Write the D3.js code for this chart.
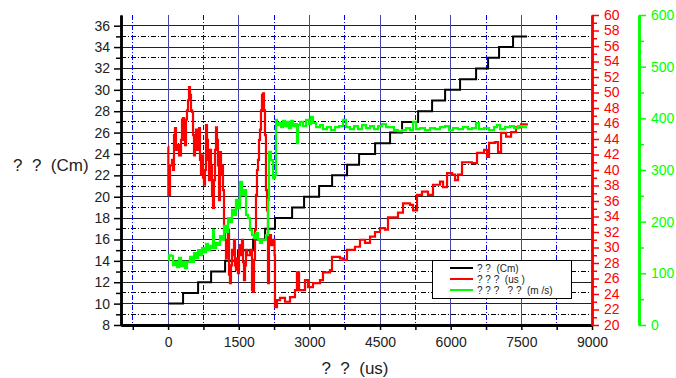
<!DOCTYPE html>
<html>
<head>
<meta charset="utf-8">
<script src="https://cdn.jsdelivr.net/npm/d3@7"></script>
<style>
  body { margin: 0; background: #fff; }
  svg { font-family: "Liberation Sans", Arial, sans-serif; }
  .pre { white-space: pre; }
</style>
</head>
<body>
<svg width="676" height="378"></svg>
<script>
// position steps (Cm) vs time (us)
var stepTimes = [0, 318, 637, 913, 1210, 1486, 1805, 2059, 2270, 2633, 2887, 3206, 3482, 3800,
  4055, 4395, 4713, 4968, 5308, 5605, 5881, 6199, 6539, 6794, 7027, 7324, 7622];
var stepPos = [10, 11, 12, 13, 14, 15, 16, 17, 18, 19, 20, 21, 22, 23, 24, 25, 26, 27, 28, 29,
  30, 31, 32, 33, 34, 35, 35];

// red series (us)
var redTimes = [0, 5, 40, 83, 104, 125, 146, 168, 210, 231, 274, 295, 316, 338, 359, 380, 401, 423,
  444, 465, 486, 508, 529, 550, 571, 592, 614, 635, 656, 677, 698, 720, 741, 762, 783, 805, 826,
  847, 868, 890, 911, 932, 953, 974, 996, 1017, 1038, 1059, 1081, 1102, 1123, 1144, 1165, 1187,
  1208, 1229, 1250, 1272, 1293, 1314, 1335, 1357, 1378, 1399, 1420, 1441, 1463, 1484, 1505, 1526,
  1548, 1569, 1590, 1611, 1633, 1654, 1675, 1696, 1739, 1781, 1802, 1824, 1845, 1866, 1887, 1908,
  1930, 1951, 1972, 1993, 2015, 2036, 2057, 2078, 2100, 2121, 2142, 2184, 2227, 2260, 2269, 2312,
  2376, 2482, 2588, 2694, 2736, 2780, 2906, 2970, 3076, 3225, 3288, 3437, 3480, 3650, 3713, 3798,
  3968, 4074, 4181, 4287, 4393, 4499, 4605, 4669, 4881, 4987, 5136, 5200, 5285, 5391, 5518, 5624,
  5773, 5837, 5922, 6028, 6092, 6155, 6240, 6452, 6559, 6707, 6771, 6814, 6941, 7005, 7069, 7175,
  7282, 7388, 7494, 7640];
var redVals = [43.0, 36.8, 40.6, 41.3, 40.0, 44.5, 45.4, 42.6, 43.2, 41.9, 43.9, 46.5, 46.7, 43.9,
  43.2, 46.5, 47.7, 49.0, 50.7, 49.7, 47.7, 47.5, 44.5, 41.9, 43.9, 45.2, 42.6, 43.2, 45.4, 41.3,
  39.4, 41.9, 39.0, 38.1, 40.0, 45.8, 43.9, 41.3, 38.7, 42.6, 40.6, 36.8, 35.1, 38.7, 42.6, 45.5,
  43.9, 40.6, 36.1, 42.3, 39.4, 40.6, 37.4, 32.3, 31.0, 28.6, 31.0, 32.3, 26.5, 25.4, 27.7, 29.7,
  29.0, 31.0, 27.7, 27.1, 28.6, 26.7, 29.7, 30.3, 29.0, 31.0, 28.1, 25.8, 27.7, 29.7, 29.0, 29.0,
  29.7, 24.5, 24.3, 28.4, 32.3, 36.8, 40.0, 41.3, 43.9, 45.2, 47.7, 49.7, 49.9, 47.7, 44.5, 37.4,
  34.8, 25.4, 31.6, 30.3, 31.0, 29.0, 22.3, 23.2, 23.5, 23.0, 23.6, 24.5, 26.8, 24.5, 25.8, 24.9,
  25.4, 25.8, 26.8, 27.1, 28.8, 28.6, 28.4, 29.7, 30.1, 31.0, 30.6, 31.4, 32.0, 32.5, 32.3, 33.9,
  34.5, 35.7, 35.5, 34.8, 36.8, 37.2, 36.8, 38.1, 38.5, 37.8, 39.6, 39.4, 38.7, 39.4, 41.0, 40.9,
  42.2, 42.6, 41.7, 43.5, 43.6, 42.3, 44.8, 44.3, 44.9, 45.5, 45.9, 45.9];

// green series (m/s)
var velTimes = [0, 19, 62, 104, 146, 189, 231, 274, 316, 359, 401, 465, 508, 550, 592, 635, 677,
  720, 762, 805, 847, 890, 932, 953, 974, 1017, 1059, 1102, 1144, 1187, 1229, 1272, 1314, 1357,
  1399, 1441, 1484, 1526, 1569, 1611, 1654, 1696, 1739, 1781, 1824, 1866, 1908, 1951, 1993, 2078,
  2121, 2142, 2184, 2227, 2269, 2291, 2312, 2354, 2397, 2439, 2482, 2524, 2567, 2609, 2652, 2694,
  2736, 2758, 2800, 2864, 2928, 2991, 3034, 3076, 3140, 3225, 3288, 3373, 3458, 3543, 3628, 3713,
  3777, 3862, 3947, 4032, 4117, 4202, 4287, 4372, 4457, 4542, 4627, 4711, 4796, 4881, 4966, 5051,
  5136, 5200, 5263, 5348, 5454, 5560, 5666, 5773, 5879, 5964, 6049, 6155, 6261, 6367, 6452, 6537,
  6600, 6707, 6814, 6920, 6984, 7048, 7154, 7260, 7345, 7430, 7515, 7622];
var velVals = [126, 135, 134, 116, 122, 112, 130, 114, 122, 110, 122, 132, 122, 139, 130, 145, 135,
  149, 141, 157, 145, 153, 149, 184, 149, 159, 155, 172, 165, 192, 180, 207, 199, 223, 213, 242,
  226, 277, 252, 261, 213, 207, 184, 174, 168, 178, 165, 159, 165, 174, 242, 335, 319, 284, 290,
  397, 387, 391, 383, 395, 385, 393, 381, 395, 385, 389, 352, 387, 393, 385, 397, 389, 403, 391,
  383, 387, 379, 383, 377, 383, 385, 397, 383, 379, 385, 379, 387, 381, 385, 379, 385, 389, 383,
  383, 377, 375, 377, 381, 377, 393, 379, 381, 377, 381, 379, 383, 385, 377, 381, 379, 383, 379,
  381, 391, 379, 381, 377, 383, 387, 379, 383, 385, 381, 385, 383, 383];

var xMajor = [0, 1500, 3000, 4500, 6000, 7500, 9000];
var xMinor = [-750, 750, 2250, 3750, 5250, 6750, 8250];
var yMajor = d3.range(8, 37, 2);
var yMinor = d3.range(9, 37, 2);
var redMajor = d3.range(20, 61, 2);
var redMinor = d3.range(21, 60, 2);
var velMajor = [0, 100, 200, 300, 400, 500, 600];
var velMinor = [50, 150, 250, 350, 450, 550];

var legendNames = ["? ?  (Cm)", "? ? ?  (us )", "? ? ?   ? ?  (m /s)"];
var legendColors = ["#000000", "#ff0000", "#00ff00"];

var svg = d3.select("svg");
var pLeft = 121, pRight = 592, pTop = 15, pBottom = 325;

var x = d3.scaleLinear().domain([-1000, 9000]).range([pLeft, pRight]);
var yL = d3.scaleLinear().domain([8, 37]).range([pBottom, pTop]);
var yR = d3.scaleLinear().domain([20, 60]).range([pBottom, pTop]);
var yG = d3.scaleLinear().domain([0, 600]).range([pBottom, pTop]);

var grid = svg.append("g").attr("shape-rendering", "crispEdges");

// horizontal grid: solid on even, dash-dot on odd
grid.selectAll(".hs").data(yMajor.filter(function(d) { return d > 8; }))
  .enter().append("line")
    .attr("x1", pLeft).attr("x2", pRight)
    .attr("y1", function(d) { return yL(d); }).attr("y2", function(d) { return yL(d); })
    .attr("stroke", "#222");
grid.selectAll(".hd").data(yMinor)
  .enter().append("line")
    .attr("x1", pLeft).attr("x2", pRight)
    .attr("y1", function(d) { return yL(d); }).attr("y2", function(d) { return yL(d); })
    .attr("stroke", "#000").attr("stroke-dasharray", "5,2,1,2");

// vertical grid
grid.selectAll(".vs").data(xMajor.filter(function(d) { return d < 9000; }))
  .enter().append("line")
    .attr("x1", function(d) { return x(d); }).attr("x2", function(d) { return x(d); })
    .attr("y1", pTop).attr("y2", pBottom)
    .attr("stroke", "#4646aa");
grid.selectAll(".vd").data(xMinor)
  .enter().append("line")
    .attr("x1", function(d) { return x(d); }).attr("x2", function(d) { return x(d); })
    .attr("y1", pTop).attr("y2", pBottom)
    .attr("stroke", "#0000ff").attr("stroke-dasharray", "5,2,1,2");

// series
var stepLine = d3.line()
  .x(function(d, i) { return x(stepTimes[i]); })
  .y(function(d) { return yL(d); })
  .curve(d3.curveStepAfter);
svg.append("path").datum(stepPos)
  .attr("d", stepLine).attr("fill", "none").attr("stroke", "#000").attr("stroke-width", 2);

var redLine = d3.line()
  .x(function(d, i) { return x(redTimes[i]); })
  .y(function(d) { return yR(d); })
  .curve(d3.curveStepAfter);
svg.append("path").datum(redVals)
  .attr("d", redLine).attr("fill", "none").attr("stroke", "#ff0000").attr("stroke-width", 2.2);

var velLine = d3.line()
  .x(function(d, i) { return x(velTimes[i]); })
  .y(function(d) { return yG(d); })
  .curve(d3.curveStepAfter);
svg.append("path").datum(velVals)
  .attr("d", velLine).attr("fill", "none").attr("stroke", "#00ff00").attr("stroke-width", 2.2);

// axes
function styleAxis(g, color, width) {
  g.select(".domain").attr("stroke", color).attr("stroke-width", width);
  g.selectAll(".tick line").attr("stroke", color).attr("stroke-width", 1.5);
  g.selectAll("text").attr("fill", color).style("font-size", "14px");
}

var ax;
ax = svg.append("g").attr("transform", "translate(" + pLeft + ",0)")
  .call(d3.axisLeft(yL).tickValues(yMinor).tickSize(5).tickFormat("").tickSizeOuter(0));
styleAxis(ax, "#000", 2.5);
ax = svg.append("g").attr("transform", "translate(" + pLeft + ",0)")
  .call(d3.axisLeft(yL).tickValues(yMajor).tickSize(7).tickPadding(4).tickSizeOuter(0));
styleAxis(ax, "#000", 2.5);
ax.selectAll("text").attr("fill", "#222");

ax = svg.append("g").attr("transform", "translate(0," + pBottom + ")")
  .call(d3.axisBottom(x).tickValues(xMinor).tickSize(5).tickFormat("").tickSizeOuter(0));
styleAxis(ax, "#000", 3);
ax = svg.append("g").attr("transform", "translate(0," + pBottom + ")")
  .call(d3.axisBottom(x).tickValues(xMajor).tickSize(5).tickPadding(7).tickSizeOuter(0)
    .tickFormat(d3.format("d")));
styleAxis(ax, "#000", 3);
ax.selectAll("text").attr("fill", "#222");

ax = svg.append("g").attr("transform", "translate(" + pRight + ",0)")
  .call(d3.axisRight(yR).tickValues(redMinor).tickSize(5).tickFormat("").tickSizeOuter(0));
styleAxis(ax, "#ff0000", 2.5);
ax = svg.append("g").attr("transform", "translate(" + pRight + ",0)")
  .call(d3.axisRight(yR).tickValues(redMajor).tickSize(7).tickPadding(5).tickSizeOuter(0));
styleAxis(ax, "#ff0000", 2.5);

var gx = 639;
ax = svg.append("g").attr("transform", "translate(" + gx + ",0)")
  .call(d3.axisRight(yG).tickValues(velMinor).tickSize(5).tickFormat("").tickSizeOuter(0));
styleAxis(ax, "#00ff00", 2.5);
ax = svg.append("g").attr("transform", "translate(" + gx + ",0)")
  .call(d3.axisRight(yG).tickValues(velMajor).tickSize(7).tickPadding(5).tickSizeOuter(0));
styleAxis(ax, "#00ff00", 2.5);

// axis titles
svg.append("text").attr("class", "pre").attr("x", 13).attr("y", 171)
  .style("font-size", "17px").attr("fill", "#222").text("?  ?  (Cm)");
svg.append("text").attr("class", "pre").attr("x", 355).attr("y", 374)
  .attr("text-anchor", "middle").style("font-size", "17px").attr("fill", "#222").text("?  ?  (us)");

// legend
var lg = svg.append("g").attr("transform", "translate(432,260)");
lg.append("rect").attr("width", 139).attr("height", 38)
  .attr("fill", "#fff").attr("stroke", "#000").attr("shape-rendering", "crispEdges");
var item = lg.selectAll(".item").data(legendNames)
  .enter().append("g")
    .attr("transform", function(d, i) { return "translate(0," + (8 + i * 11) + ")"; });
item.append("line").attr("x1", 18).attr("x2", 41)
  .attr("stroke", function(d, i) { return legendColors[i]; }).attr("stroke-width", 2);
item.append("text").attr("class", "pre").attr("x", 45).attr("y", 3.5)
  .style("font-size", "10px").attr("fill", "#222").text(function(d) { return d; });
</script>
</body>
</html>
